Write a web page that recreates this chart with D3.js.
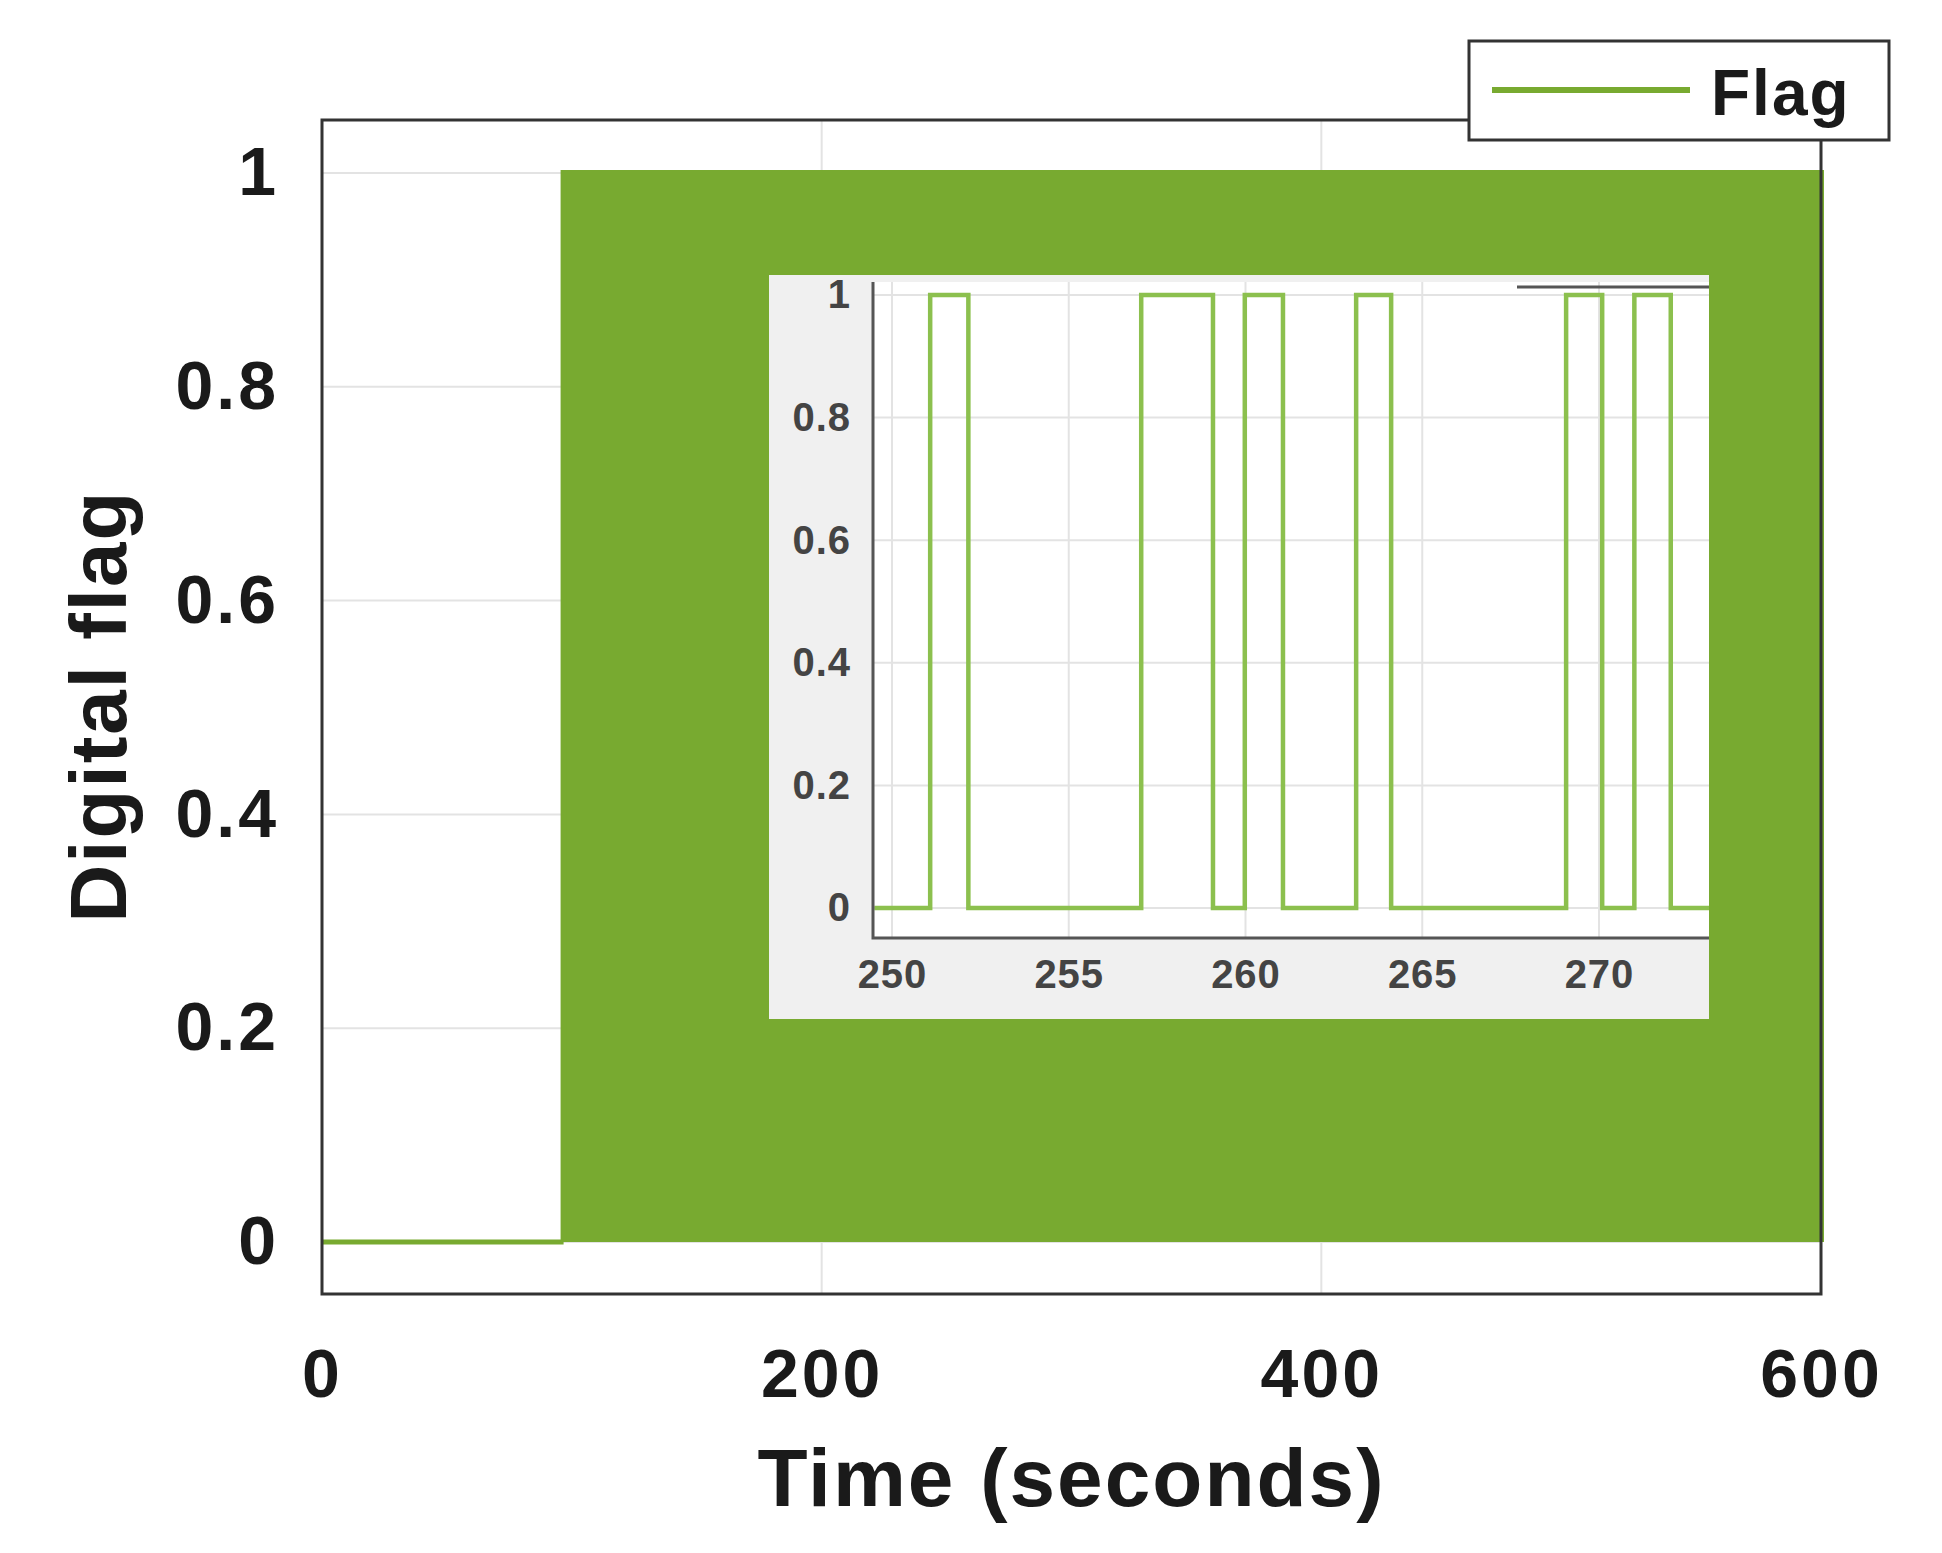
<!DOCTYPE html>
<html><head><meta charset="utf-8">
<script src="https://cdn.jsdelivr.net/npm/d3@7"></script>
<style>body{margin:0;background:#fff}text{font-family:"Liberation Sans",Arial,sans-serif}</style>
</head><body><svg id="c" width="1942" height="1553"></svg>
<script>
// main chart data
const mainXTicks=[0,200,400,600];
const mainYTicks=[0,0.2,0.4,0.6,0.8,1];
const idleX=[0,96.7];            // flag stays 0
const idleY=[0,0];
const bandX=[96.7,96.7,600,600];   // fast switching envelope
const bandY=[0,1,1,0];
// inset data (zoom 250-273 s)
const insetT=[249.5,251.08,251.08,252.16,252.16,257.05,257.05,259.08,259.08,259.98,259.98,261.06,261.06,263.13,263.13,264.12,264.12,269.07,269.07,270.09,270.09,271.0,271.0,272.03,272.03,273.2];
const insetV=[0,0,1,1,0,0,1,1,0,0,1,1,0,0,1,1,0,0,1,1,0,0,1,1,0,0];
const insetXTicks=[250,255,260,265,270];
const insetYTicks=[0,0.2,0.4,0.6,0.8,1];

const svg=d3.select("#c");
const green="#78aa30", grid="#e3e3e3";
const pL=322,pR=1821,pTop=120,pBottom=1294;
const x=d3.scaleLinear().domain([0,600]).range([pL,pR]);
const y=d3.scaleLinear().domain([0,1]).range([1242,173]);
const fmt=d=>d===0||d===1?d:d3.format(".1f")(d);
svg.append("g").selectAll("line").data(mainYTicks).join("line")
 .attr("x1",pL).attr("x2",pR).attr("y1",d=>y(d)).attr("y2",d=>y(d)).attr("stroke",grid).attr("stroke-width",2);
svg.append("g").selectAll("line").data(mainXTicks).join("line")
 .attr("y1",pTop).attr("y2",pBottom).attr("x1",d=>x(d)).attr("x2",d=>x(d)).attr("stroke",grid).attr("stroke-width",2);
svg.append("path").datum(bandX.map((d,i)=>[d,bandY[i]]))
 .attr("d",d3.line().x(d=>x(d[0])).y(d=>y(d[1]))).attr("fill",green).attr("stroke",green).attr("stroke-width",6);
svg.append("path").datum(idleX.map((d,i)=>[d,idleY[i]]))
 .attr("d",d3.line().x(d=>x(d[0])).y(d=>y(d[1]))).attr("fill","none").attr("stroke",green).attr("stroke-width",5);
svg.append("rect").attr("x",pL).attr("y",pTop).attr("width",pR-pL).attr("height",pBottom-pTop)
 .attr("fill","none").attr("stroke","#333").attr("stroke-width",3);
svg.append("g").attr("transform",`translate(0,${pBottom})`)
 .call(d3.axisBottom(x).tickValues(mainXTicks).tickSize(0).tickPadding(52).tickFormat(d3.format("d")))
 .call(g=>g.select(".domain").remove())
 .selectAll("text").attr("font-size",68).attr("letter-spacing",3).attr("font-weight","bold").attr("fill","#1a1a1a").attr("dy","0.75em");
svg.append("g").attr("transform",`translate(${pL},0)`)
 .call(d3.axisLeft(y).tickValues(mainYTicks).tickSize(0).tickPadding(43).tickFormat(fmt))
 .call(g=>g.select(".domain").remove())
 .selectAll("text").attr("font-size",68).attr("letter-spacing",3).attr("font-weight","bold").attr("fill","#1a1a1a");
svg.append("text").attr("x",x(300)).attr("y",1506).attr("text-anchor","middle").attr("font-size",82).attr("letter-spacing",2).attr("font-weight","bold").attr("fill","#1a1a1a").text("Time (seconds)");
svg.append("text").attr("transform",`translate(126,706) rotate(-90)`).attr("text-anchor","middle").attr("font-size",80).attr("letter-spacing",2).attr("font-weight","bold").attr("fill","#1a1a1a").text("Digital flag");
svg.append("rect").attr("x",1469).attr("y",41).attr("width",420).attr("height",99).attr("fill","#fff").attr("stroke","#333").attr("stroke-width",3);
svg.append("line").attr("x1",1492).attr("x2",1690).attr("y1",90).attr("y2",90).attr("stroke",green).attr("stroke-width",6);
svg.append("text").attr("x",1711).attr("y",115).attr("font-size",64).attr("letter-spacing",2).attr("font-weight","bold").attr("fill","#1a1a1a").text("Flag");
// inset
const iL=873,iR=1709,iT=282,iB=938;
const ix=d3.scaleLinear().domain([250,270]).range([892,1599]);
const iy=d3.scaleLinear().domain([0,1]).range([908,295]);
svg.append("defs").append("clipPath").attr("id","ic").append("rect").attr("x",iL).attr("y",iT-10).attr("width",iR-iL).attr("height",iB-iT+10);
svg.append("rect").attr("x",769).attr("y",275).attr("width",1709-769).attr("height",1019-275).attr("fill","#f0f0f0");
svg.append("rect").attr("x",iL).attr("y",iT).attr("width",iR-iL).attr("height",iB-iT).attr("fill","#fff");
svg.append("g").selectAll("line").data(insetYTicks).join("line")
 .attr("x1",iL).attr("x2",iR).attr("y1",d=>iy(d)).attr("y2",d=>iy(d)).attr("stroke",grid).attr("stroke-width",2);
svg.append("g").selectAll("line").data(insetXTicks).join("line")
 .attr("y1",iT).attr("y2",iB).attr("x1",d=>ix(d)).attr("x2",d=>ix(d)).attr("stroke",grid).attr("stroke-width",2);
svg.append("line").attr("x1",1517).attr("x2",iR).attr("y1",287).attr("y2",287).attr("stroke","#555").attr("stroke-width",3);
svg.append("path").datum(insetT.map((d,i)=>[d,insetV[i]])).attr("clip-path","url(#ic)")
 .attr("d",d3.line().x(d=>ix(d[0])).y(d=>iy(d[1]))).attr("fill","none").attr("stroke","#8cc04e").attr("stroke-width",4.5);
svg.append("path").attr("d",`M${iL},${iT}V${iB}H${iR}`).attr("fill","none").attr("stroke","#555").attr("stroke-width",3);
svg.append("g").attr("transform",`translate(0,${iB})`)
 .call(d3.axisBottom(ix).tickValues(insetXTicks).tickSize(0).tickPadding(18).tickFormat(d3.format("d")))
 .call(g=>g.select(".domain").remove())
 .selectAll("text").attr("font-size",40).attr("letter-spacing",1).attr("font-weight","bold").attr("fill","#444").attr("dy","0.8em");
svg.append("g").attr("transform",`translate(${iL},0)`)
 .call(d3.axisLeft(iy).tickValues(insetYTicks).tickSize(0).tickPadding(22).tickFormat(fmt))
 .call(g=>g.select(".domain").remove())
 .selectAll("text").attr("font-size",40).attr("letter-spacing",1).attr("font-weight","bold").attr("fill","#444");
</script></body></html>
